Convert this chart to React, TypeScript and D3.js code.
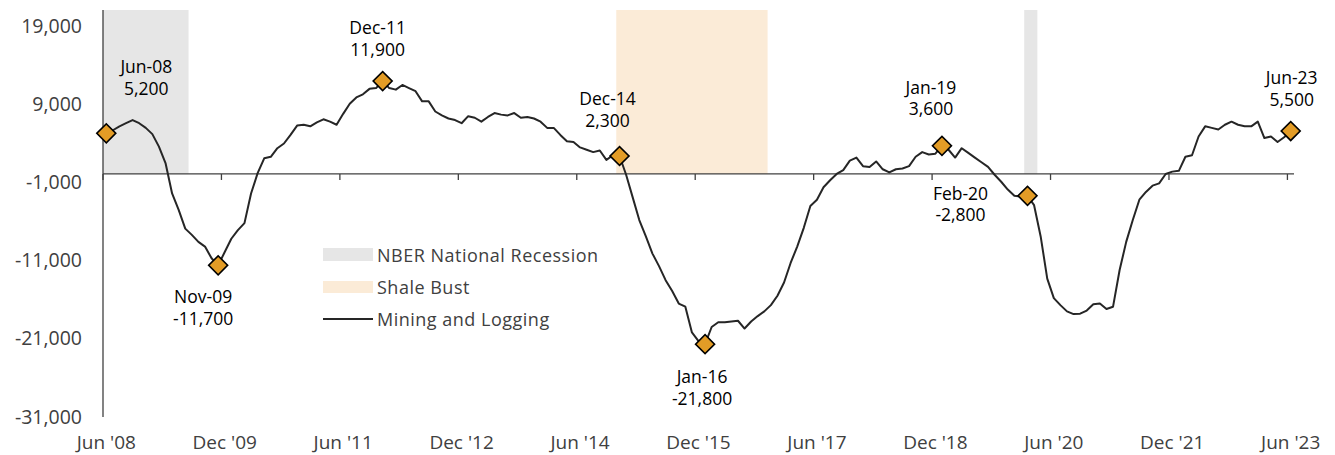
import React from "react";
import * as d3 from "d3";

// ---- Data ----
const startMonth = new Date(2008, 5, 1); // Jun 2008
const endMonth = new Date(2023, 6, 1); // exclusive (Jul 2023)
const months: Date[] = d3.timeMonth.range(startMonth, endMonth);

// Mining and Logging, year-over-year change in jobs (monthly, Jun 2008 – Jun 2023)
const miningLogging: number[] = [
  5200, 5600, 6100, 6500, 6900, 6500, 5900, 5100, 3500, 1400,
  -2500, -4600, -7000, -7800, -8700, -9300, -10800, -11700, -10000, -8300,
  -7200, -6300, -2500, 100, 2000, 2200, 3300, 3900, 5000, 6200,
  6300, 6100, 6600, 7000, 6700, 6300, 7700, 9000, 9800, 10200,
  10900, 11000, 11900, 11000, 10800, 11400, 11000, 10600, 9300, 9300,
  8000, 7500, 7100, 6900, 6500, 7400, 7200, 6700, 7300, 7800,
  7600, 7500, 7800, 7200, 7300, 7100, 6700, 5900, 5900, 5000,
  4200, 4100, 3400, 3100, 2800, 3000, 1800, 2400, 2300, -100,
  -3000, -5900, -8000, -10200, -11800, -13600, -15000, -16600, -17000, -20300,
  -21400, -21800, -19600, -19000, -19000, -18900, -18800, -19800, -18900, -18200,
  -17600, -16800, -15600, -13900, -11400, -9300, -6900, -4100, -3300, -1700,
  -800, 0, 500, 1700, 2100, 1000, 900, 1600, 600, 200,
  600, 700, 1000, 2200, 2800, 2500, 2600, 3600, 3100, 2100,
  3300, 2700, 2100, 1500, 900, -100, -1000, -2000, -2800, -2900,
  -2800, -4000, -8000, -13400, -15900, -16800, -17600, -17950, -17900, -17500,
  -16700, -16600, -17300, -17000, -12300, -8700, -5900, -3300, -2300, -1500,
  -1200, 0, 300, 400, 2200, 2400, 4800, 6100, 5900, 5700,
  6300, 6700, 6300, 6100, 6100, 6700, 4600, 4800, 4100, 4700,
  5500,
];

// Shaded periods (month index start, month index end exclusive)
const nberRecessions: [number, number][] = [
  [0, 13],
  [140, 142],
];
const shaleBust: [number, number][] = [[78, 101]];

// Annotated points
const annotationIndex: number[] = [0, 17, 42, 78, 91, 127, 140, 180];
const annotationLabel: string[] = ["Jun-08", "Nov-09", "Dec-11", "Dec-14", "Jan-16", "Jan-19", "Feb-20", "Jun-23"];
// label placement relative to marker (layout only)
const annotationOffset: [number, number][] = [
  [40, -67],
  [-15, 31],
  [-5, -54],
  [-12, -58],
  [-3, 32],
  [-11, -59],
  [-67, -3],
  [1, -54],
];

const yTicks: number[] = [-31000, -21000, -11000, -1000, 9000, 19000];
const xTickIndex: number[] = [0, 18, 36, 54, 72, 90, 108, 126, 144, 162, 180];
const xTickLabels: string[] = ["Jun '08", "Dec '09", "Jun '11", "Dec '12", "Jun '14", "Dec '15", "Jun '17", "Dec '18", "Jun '20", "Dec '21", "Jun '23"];

const legendItems: string[] = ["NBER National Recession", "Shale Bust", "Mining and Logging"];

// ---- Layout ----
const W = 1335;
const H = 455;
const plotLeft = 103;
const plotRight = 1294;
const plotTop = 10;
const plotBottom = 416;
const FONT = "'Open Sans', 'DejaVu Sans', sans-serif";
const AXIS_COLOR = "#404040";
const GREY_BAND = "#e6e6e6";
const SHALE_BAND = "#fbebd7";
const MARKER = "#e39c26";

const fmtBase = d3.format(",");
const fmt = (v: number) => fmtBase(v).replace("\u2212", "-");

export default function App() {
  const n = miningLogging.length;
  const band = d3.scaleLinear().domain([0, n]).range([plotLeft, plotRight]);
  const x = (i: number) => band(i + 0.5);
  const y = d3.scaleLinear().domain([-31000, 21000]).range([plotBottom, plotTop]);

  const line = d3
    .line<number>()
    .x((_, i) => x(i))
    .y((d) => y(d));

  const diamond = d3.symbol().type(d3.symbolSquare).size(180)();

  return (
    <svg
      width={W}
      height={H}
      style={{ position: "absolute", left: 0, top: 0, background: "#fff" }}
      fontFamily={FONT}
    >
      {/* shaded bands */}
      {nberRecessions.map(([a, b], k) => (
        <rect key={"n" + k} x={band(a)} y={y(21000)} width={band(b) - band(a)} height={y(0) - y(21000)} fill={GREY_BAND} />
      ))}
      {shaleBust.map(([a, b], k) => (
        <rect key={"s" + k} x={band(a)} y={y(21000)} width={band(b) - band(a)} height={y(0) - y(21000)} fill={SHALE_BAND} />
      ))}

      {/* y axis */}
      <line x1={plotLeft} x2={plotLeft} y1={plotTop} y2={plotBottom + 1} stroke={AXIS_COLOR} strokeWidth={1.3} />
      {yTicks.map((t) => (
        <text key={t} x={82} y={y(t)} textAnchor="end" dominantBaseline="central" fontSize={19.5} fill={AXIS_COLOR}>
          {fmt(t)}
        </text>
      ))}

      {/* x axis at zero */}
      <line x1={plotLeft} x2={plotRight} y1={y(0)} y2={y(0)} stroke={AXIS_COLOR} strokeWidth={1.3} />
      {xTickIndex.map((i) => (
        <line key={"t" + i} x1={band(i)} x2={band(i)} y1={y(0)} y2={y(0) + 6} stroke={AXIS_COLOR} strokeWidth={1.3} />
      ))}
      {xTickIndex.map((i, k) => (
        <text key={"l" + i} x={x(i)} y={441.5} textAnchor="middle" dominantBaseline="central" fontSize={19} fill={AXIS_COLOR}>
          {xTickLabels[k]}
        </text>
      ))}

      {/* series line */}
      <path d={line(miningLogging) || ""} fill="none" stroke="#262626" strokeWidth={2} strokeLinejoin="round" />

      {/* markers and labels */}
      {annotationIndex.map((i, k) => {
        const cx = x(i);
        const cy = y(miningLogging[i]);
        const [dx, dy] = annotationOffset[k];
        return (
          <g key={"a" + i}>
            <path d={diamond || ""} transform={`translate(${cx},${cy}) rotate(45)`} fill={MARKER} stroke="#000" strokeWidth={1.6} />
            <text x={cx + dx} y={cy + dy} textAnchor="middle" dominantBaseline="central" fontSize={17.5} fill="#000">
              {annotationLabel[k]}
            </text>
            <text x={cx + dx} y={cy + dy + 21.5} textAnchor="middle" dominantBaseline="central" fontSize={17.5} fill="#000">
              {fmt(miningLogging[i])}
            </text>
          </g>
        );
      })}

      {/* legend */}
      <g>
        <rect x={323} y={248} width={50} height={13} fill={GREY_BAND} />
        <rect x={323} y={281} width={50} height={12} fill={SHALE_BAND} />
        <line x1={323} x2={373} y1={319} y2={319} stroke="#262626" strokeWidth={2} />
        {legendItems.map((t, k) => (
          <text key={t} x={377} y={[254.5, 287, 319][k]} dominantBaseline="central" fontSize={18} letterSpacing={0.5} fill={AXIS_COLOR}>
            {t}
          </text>
        ))}
      </g>
    </svg>
  );
}
